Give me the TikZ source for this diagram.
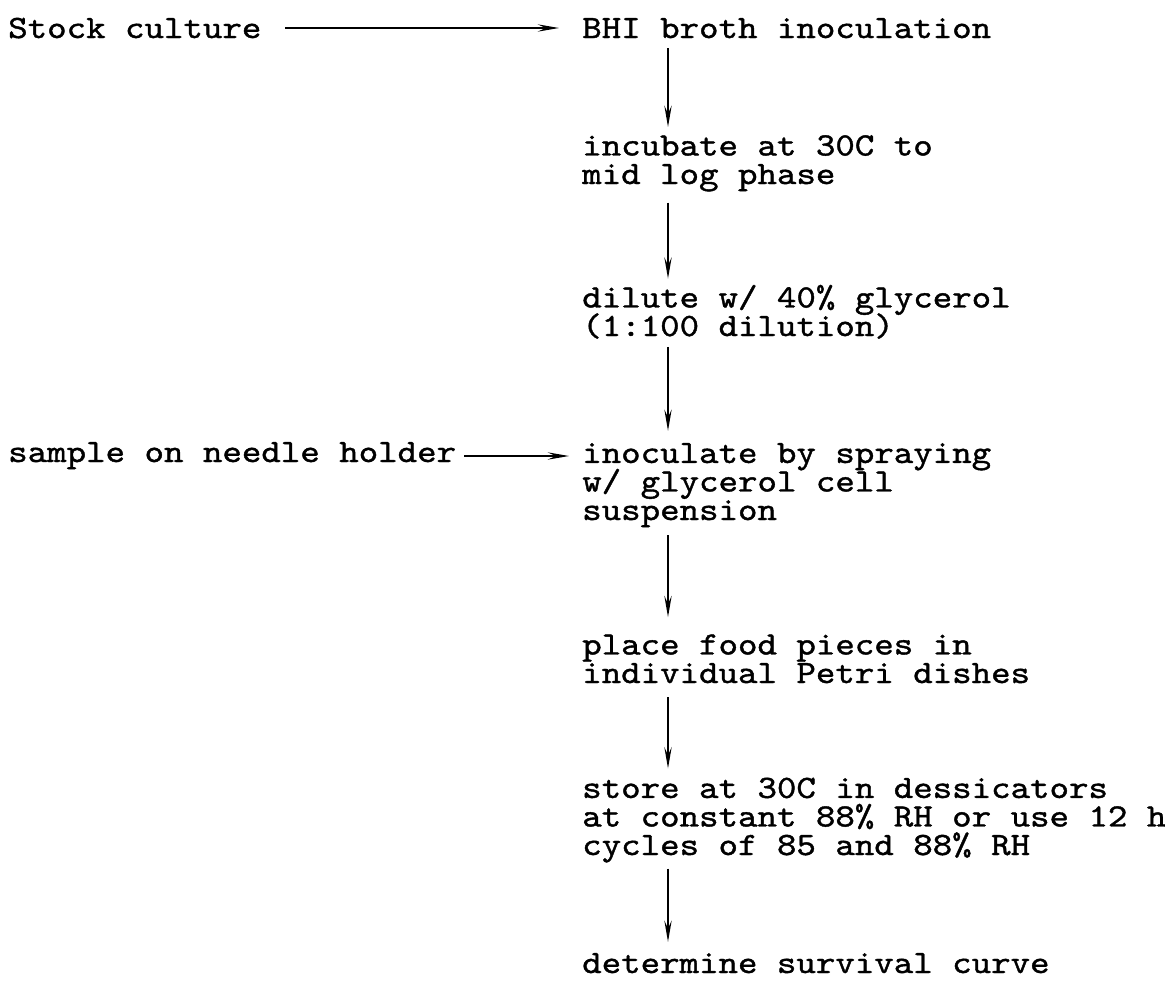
\documentclass[tikz,border=0pt]{standalone}
\usepackage{fontspec}
\newfontfamily\tw{lmmono10-regular}[Extension=.otf, FakeStretch=1.14, FakeBold=1.2]
\newcommand\twfont{\tw\fontsize{24.4}{21.4}\selectfont\lineskiplimit=-100pt\relax}
\usetikzlibrary{arrows.meta,calc}
\begin{document}
\begin{tikzpicture}[x=0.75pt,y=-0.75pt,
  txt/.style={anchor=base west, align=left, inner sep=0pt, font=\twfont},
  arr/.style={line width=1.5pt, -{Stealth[length=16pt,width=5.5pt,inset=6pt]}}]
\useasboundingbox (0,0) rectangle (1165,989);
\coordinate (col) at (668,0);
% multi-line nodes: base anchor = baseline of the last line
\node[txt] (stock) at (8,38) {Stock culture};
\node[txt] (bhi) at (582,38) {BHI broth inoculation};
\node[txt] (inc) at (582,184) {incubate at 30C to\\mid log phase};
\node[txt] (dil) at (582,336) {dilute w/ 40\% glycerol\\(1:100 dilution)};
\node[txt] (sample) at (8,462) {sample on needle holder};
\node[txt] (inoc) at (582,520) {inoculate by spraying\\w/ glycerol cell\\suspension};
\node[txt] (place) at (582,683) {place food pieces in\\individual Petri dishes};
\node[txt] (store) at (582,855) {store at 30C in dessicators\\at constant 88\% RH or use 12 h\\cycles of 85 and 88\% RH};
\node[txt] (det) at (582,973) {determine survival curve};
\draw[arr] ($(stock.base east)+(23.5,-10)$) -- ($(bhi.base west)+(-23,-10)$);
\draw[arr] ($(sample.base east)+(8,-6)$) coordinate (h2) -- ($(h2 -| inoc.west)+(-13,0)$);
\draw[arr] ($(bhi.south -| col)+(0,10)$) -- ($(inc.north -| col)+(0,-8)$);
\draw[arr] ($(inc.south -| col)+(0,11)$) -- ($(dil.north -| col)+(0,-6)$);
\draw[arr] ($(dil.south -| col)+(0,8)$) -- ($(inoc.north -| col)+(0,-12)$);
\draw[arr] ($(inoc.south -| col)+(0,8)$) -- ($(place.north -| col)+(0,-17)$);
\draw[arr] ($(place.south -| col)+(0,14)$) -- ($(store.north -| col)+(0,-9)$);
\draw[arr] ($(store.south -| col)+(0,6)$) -- ($(det.north -| col)+(0,-11)$);
\end{tikzpicture}
\end{document}
